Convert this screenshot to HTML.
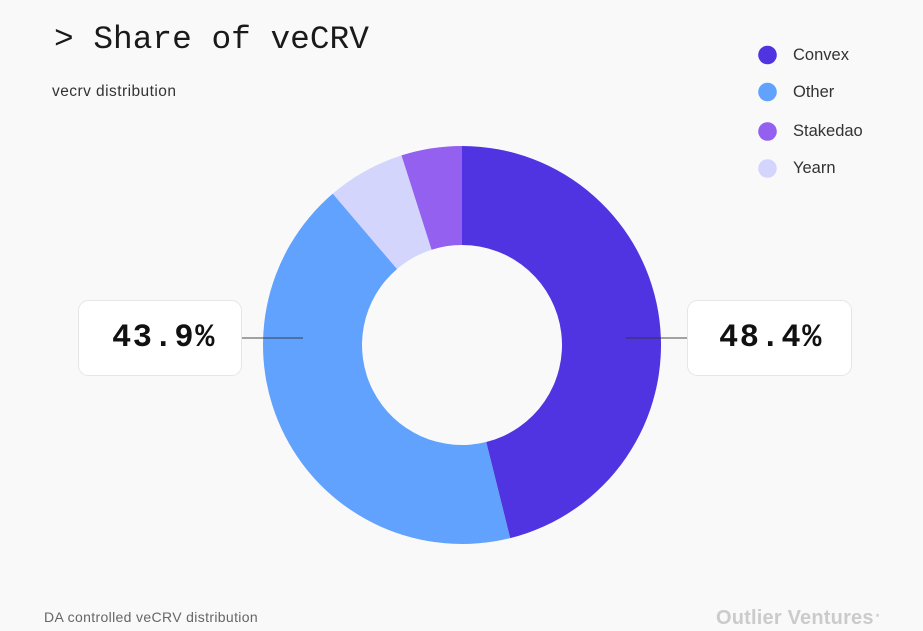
<!DOCTYPE html>
<html>
<head>
<meta charset="utf-8">
<style>
html,body{margin:0;padding:0;}
body{width:923px;height:631px;background:#f9f9f9;position:relative;overflow:hidden;font-family:"Liberation Sans",sans-serif;}
.t{position:absolute;white-space:nowrap;}
</style>
</head>
<body>
<svg width="923" height="631" style="position:absolute;left:0;top:0">
  <path d="M462,146 A199,199 0 0 1 510.14,538.09 L486.19,442.03 A100,100 0 0 0 462,245 Z" fill="#5034E1"/>
  <path d="M510.14,538.09 A199,199 0 0 1 332.77,193.68 L397.06,268.96 A100,100 0 0 0 486.19,442.03 Z" fill="#60A2FE"/>
  <path d="M332.77,193.68 A199,199 0 0 1 401.50,155.41 L431.60,249.73 A100,100 0 0 0 397.06,268.96 Z" fill="#D3D5FC"/>
  <path d="M401.50,155.41 A199,199 0 0 1 462,146 L462,245 A100,100 0 0 0 431.60,249.73 Z" fill="#9460EF"/>
  <line x1="242" y1="338" x2="303" y2="338" stroke="#333" stroke-opacity="0.7" stroke-width="1.3"/>
  <line x1="626" y1="338" x2="687" y2="338" stroke="#333" stroke-opacity="0.7" stroke-width="1.3"/>
  <rect x="78.5" y="300.5" width="163" height="75" rx="10" fill="#fff" stroke="#e6e6e6"/>
  <rect x="687.5" y="300.5" width="164" height="75" rx="10" fill="#fff" stroke="#e6e6e6"/>
  <circle cx="767.5" cy="55" r="9.3" fill="#5034E1"/>
  <circle cx="767.5" cy="92" r="9.3" fill="#60A2FE"/>
  <circle cx="767.5" cy="131.5" r="9.3" fill="#9460EF"/>
  <circle cx="767.5" cy="168.5" r="9.3" fill="#D3D5FC"/>
</svg>
<div class="t" style="left:54px;top:20px;font-family:'Liberation Mono',monospace;font-size:32.8px;color:#1a1a1a;line-height:40px;">&gt; Share of veCRV</div>
<div class="t" style="left:52px;top:83px;font-size:15.5px;letter-spacing:0.45px;color:#333;line-height:18px;">vecrv distribution</div>
<div class="t" style="left:793px;top:45px;font-size:16.5px;color:#333;line-height:20px;">Convex</div>
<div class="t" style="left:793px;top:82px;font-size:16.5px;color:#333;line-height:20px;">Other</div>
<div class="t" style="left:793px;top:121px;font-size:16.5px;color:#333;line-height:20px;">Stakedao</div>
<div class="t" style="left:793px;top:158px;font-size:16.5px;color:#333;line-height:20px;">Yearn</div>
<div class="t" style="left:112px;top:319px;font-family:'Liberation Mono',monospace;font-weight:bold;font-size:32px;letter-spacing:1.6px;color:#111;line-height:38px;">43.9%</div>
<div class="t" style="left:719px;top:319px;font-family:'Liberation Mono',monospace;font-weight:bold;font-size:32px;letter-spacing:1.6px;color:#111;line-height:38px;">48.4%</div>
<div class="t" style="left:44px;top:608px;font-size:14px;letter-spacing:0.35px;color:#666;line-height:18px;">DA controlled veCRV distribution</div>
<div class="t" style="left:716px;top:605px;font-size:20px;letter-spacing:0.2px;font-weight:bold;color:#cbcbcb;line-height:26px;">Outlier Ventures<span style="font-size:9px;vertical-align:top;position:relative;top:-1px;margin-left:2px;">*</span></div>
</body>
</html>
